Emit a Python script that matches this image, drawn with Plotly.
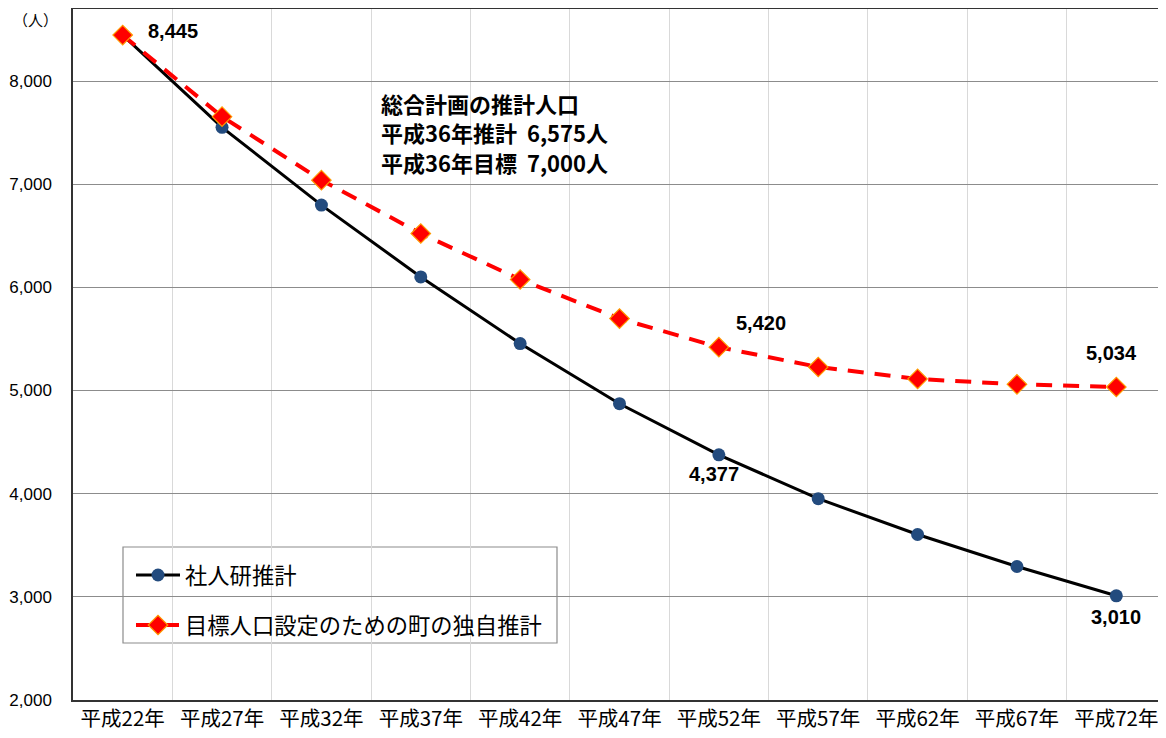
import plotly.graph_objects as go

categories = ["平成22年", "平成27年", "平成32年", "平成37年", "平成42年", "平成47年",
              "平成52年", "平成57年", "平成62年", "平成67年", "平成72年"]
ipss_values = [8445, 7551, 6797, 6101, 5455, 4872, 4377, 3951, 3604, 3294, 3010]
town_values = [8445, 7654, 7039, 6522, 6076, 5697, 5420, 5228, 5112, 5060, 5034]
series_names = ["社人研推計", "目標人口設定のための町の独自推計"]
y_ticks = [2000, 3000, 4000, 5000, 6000, 7000, 8000]
note_lines = ["総合計画の推計人口", "平成36年推計\u00a0\u00a06,575人", "平成36年目標\u00a0\u00a07,000人"]

JP = "Noto Sans CJK JP"
NUM = "Liberation Sans"

# page body has an 8px margin; plot area in reference spans x 73..1166, y 9..700
OFF = 8
PL, PT, PW, PH = 73, 9, 1093, 691

def px(X):
    return (X - PL) / PW

def py(Y):
    return (PT + PH - Y) / PH

fig = go.Figure()
fig.add_trace(go.Scatter(
    x=categories, y=ipss_values, name=series_names[0], mode="lines+markers",
    line=dict(color="black", width=3),
    marker=dict(symbol="circle", size=13, color="#234B7E", line=dict(width=0)),
    legendgroup="a",
))
fig.add_trace(go.Scatter(
    x=categories, y=town_values, name=series_names[1], mode="lines+markers",
    line=dict(color="#FF0000", width=4, dash="16px,11px"),
    marker=dict(symbol="diamond", size=15, color="#FF0000", line=dict(width=1.2, color="#FF9900")),
    legendgroup="b",
))

def lab(idx, vals, xs, ys):
    fig.add_annotation(x=categories[idx], y=vals[idx], text=f"{vals[idx]:,}",
                       showarrow=False, xshift=xs, yshift=ys,
                       font=dict(family=NUM, size=20, color="black", weight="bold"))

lab(0, ipss_values, 50, 4)
lab(6, town_values, 42, 24)
lab(6, ipss_values, -5, -19)
lab(10, town_values, -5, 34)
lab(10, ipss_values, 0, -21)

note_y = [103, 132, 162]
for t, yy in zip(note_lines, note_y):
    fig.add_annotation(xref="paper", yref="paper", x=px(379), y=py(yy),
                       xanchor="left", yanchor="middle", text=t, showarrow=False,
                       font=dict(family=JP, size=22, color="black", weight="bold"))

fig.add_annotation(xref="paper", yref="paper", x=px(35), y=py(19),
                   xanchor="center", yanchor="middle", text="（人）", showarrow=False,
                   font=dict(family=JP, size=15, color="black"))

fig.add_shape(type="rect", xref="paper", yref="paper", layer="between",
              x0=px(123), x1=px(557), y0=py(643), y1=py(547),
              fillcolor="white", line=dict(color="#8C8C8C", width=1.2))

fig.update_layout(
    width=1166 - OFF, height=738 - OFF,
    margin=dict(l=PL - OFF, r=0, t=PT - OFF, b=738 - OFF - (PT - OFF) - PH, autoexpand=False),
    paper_bgcolor="white", plot_bgcolor="white",
    showlegend=True,
    legend=dict(x=px(131), y=py(554), xanchor="left", yanchor="top",
                bgcolor="rgba(0,0,0,0)", borderwidth=0, tracegroupgap=18, itemwidth=44,
                font=dict(family=JP, size=22.3, color="black")),
    xaxis=dict(type="category", range=[-0.5, 10.5], tickson="boundaries",
               showgrid=True, gridcolor="#D9D9D9", gridwidth=1,
               ticks="", showline=True, linecolor="#333333", linewidth=1.5, mirror=True,
               tickfont=dict(family=JP, size=20.5, color="black"), automargin=False),
    yaxis=dict(range=[2000, 8698], tickvals=y_ticks,
               ticktext=[f"{v:,}" for v in y_ticks],
               showgrid=True, gridcolor="#8C8C8C", gridwidth=1,
               ticks="", ticklabelstandoff=16,
               showline=True, linecolor="#333333", linewidth=1.5, mirror=True,
               zeroline=False,
               tickfont=dict(family=NUM, size=17, color="black"), automargin=False),
)

fig.write_html("out.html")
